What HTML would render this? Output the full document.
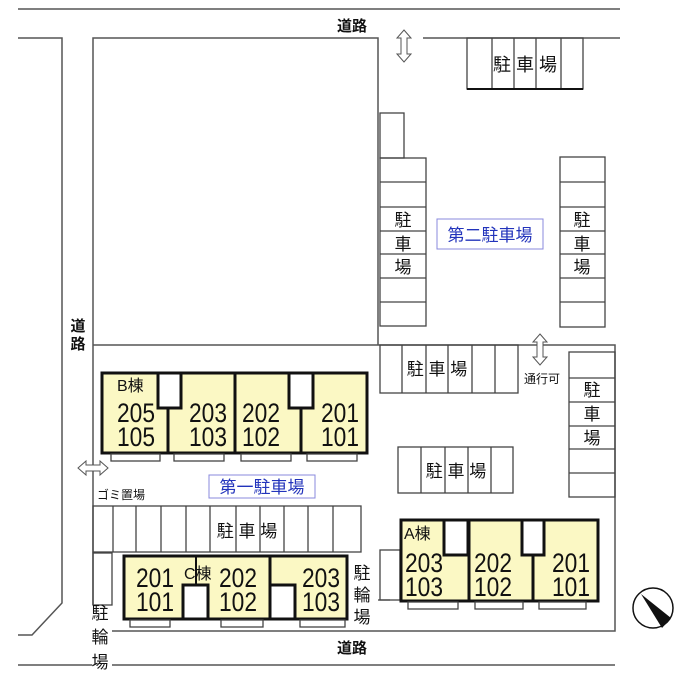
<!DOCTYPE html>
<html><head><meta charset="utf-8"><style>
html,body{margin:0;padding:0;background:#fff;}
svg{display:block;}
text{font-family:"Liberation Sans","Noto Sans CJK JP",sans-serif;fill:#111;}
.j{font-size:17px;}
.n{font-size:27px;}
.y{fill:#fbf8c4;stroke:#111;stroke-width:3;}
.w{fill:#fff;stroke:#111;stroke-width:3;}
.p{fill:none;stroke:#444;stroke-width:1.3;}
.l{stroke:#555;stroke-width:1.5;fill:none;}
</style></head><body>
<svg width="700" height="700" viewBox="0 0 700 700" xmlns="http://www.w3.org/2000/svg">
<line class="l" x1="18" y1="9" x2="620" y2="9"/>
<polyline class="l" points="18,38 62,38 62,603 32,635 18,635"/>
<line class="l" x1="423" y1="38" x2="620" y2="38"/>
<polyline class="l" points="93,605 93,38 378,38 378,345"/>
<line class="l" x1="93" y1="345" x2="378" y2="345"/>
<polyline class="l" points="378,345 615,345 615,631 112,631"/>
<line class="l" x1="18" y1="665" x2="92" y2="665"/>
<line class="l" x1="112" y1="665" x2="615" y2="665"/>
<text x="352" y="31" font-size="15" font-weight="bold" text-anchor="middle">道路</text>
<text x="352" y="653" font-size="15" font-weight="bold" text-anchor="middle">道路</text>
<text x="78" y="331" font-size="15" font-weight="bold" text-anchor="middle">道</text>
<text x="78" y="349" font-size="15" font-weight="bold" text-anchor="middle">路</text>
<g fill="#fff" stroke="#555" stroke-width="1">
<polygon points="404,30 411,38 407,38 407,54 411,54 404,62 397,54 401,54 401,38 397,38"/>
<polygon points="540,334 547,342 543,342 543,357 547,357 540,365 533,357 537,357 537,342 533,342"/>
<polygon points="78,468 86,461 86,465 100,465 100,461 108,468 100,475 100,471 86,471 86,475"/>
</g>
<text x="542" y="383" font-size="12" text-anchor="middle">通行可</text>
<rect class="p" x="467" y="38" width="116" height="51"/>
<g class="p"><line x1="492" y1="38" x2="492" y2="89"/><line x1="514" y1="38" x2="514" y2="89"/><line x1="536" y1="38" x2="536" y2="89"/><line x1="561" y1="38" x2="561" y2="89"/></g>
<line x1="467" y1="89" x2="583" y2="89" stroke="#111" stroke-width="2"/>
<text x="525" y="71" text-anchor="middle" font-size="18">駐 車 場</text>
<rect class="p" x="380" y="113" width="24" height="45"/>
<rect class="p" x="380" y="158" width="46" height="168"/>
<g class="p"><line x1="380" y1="182" x2="426" y2="182"/><line x1="380" y1="207" x2="426" y2="207"/><line x1="380" y1="231" x2="426" y2="231"/><line x1="380" y1="254" x2="426" y2="254"/><line x1="380" y1="278" x2="426" y2="278"/><line x1="380" y1="302" x2="426" y2="302"/></g>
<text x="403" y="226" class="j" text-anchor="middle">駐</text>
<text x="403" y="250" class="j" text-anchor="middle">車</text>
<text x="403" y="273" class="j" text-anchor="middle">場</text>
<rect class="p" x="560" y="157" width="45" height="170"/>
<g class="p"><line x1="560" y1="182" x2="605" y2="182"/><line x1="560" y1="207" x2="605" y2="207"/><line x1="560" y1="231" x2="605" y2="231"/><line x1="560" y1="254" x2="605" y2="254"/><line x1="560" y1="278" x2="605" y2="278"/><line x1="560" y1="302" x2="605" y2="302"/></g>
<text x="582" y="226" class="j" text-anchor="middle">駐</text>
<text x="582" y="250" class="j" text-anchor="middle">車</text>
<text x="582" y="273" class="j" text-anchor="middle">場</text>
<rect x="437" y="219" width="106" height="30" fill="#fff" stroke="#8888dd" stroke-width="1"/>
<text x="490" y="241" font-size="17" text-anchor="middle" style="fill:#2233bb">第二駐車場</text>
<rect class="p" x="380" y="345" width="138" height="48"/>
<g class="p"><line x1="402" y1="345" x2="402" y2="393"/><line x1="426" y1="345" x2="426" y2="393"/><line x1="448" y1="345" x2="448" y2="393"/><line x1="472" y1="345" x2="472" y2="393"/><line x1="495" y1="345" x2="495" y2="393"/></g>
<text x="437" y="375" class="j" text-anchor="middle">駐 車 場</text>
<rect class="p" x="569" y="352" width="46" height="145"/>
<g class="p"><line x1="569" y1="378" x2="615" y2="378"/><line x1="569" y1="402" x2="615" y2="402"/><line x1="569" y1="426" x2="615" y2="426"/><line x1="569" y1="449" x2="615" y2="449"/><line x1="569" y1="473" x2="615" y2="473"/></g>
<text x="592" y="396" class="j" text-anchor="middle">駐</text>
<text x="592" y="420" class="j" text-anchor="middle">車</text>
<text x="592" y="444" class="j" text-anchor="middle">場</text>
<rect class="p" x="398" y="447" width="115" height="46"/>
<g class="p"><line x1="421" y1="447" x2="421" y2="493"/><line x1="445" y1="447" x2="445" y2="493"/><line x1="468" y1="447" x2="468" y2="493"/><line x1="491" y1="447" x2="491" y2="493"/></g>
<text x="456" y="477" class="j" text-anchor="middle">駐 車 場</text>
<rect class="y" x="102" y="373" width="265" height="80"/>
<line x1="168" y1="408" x2="168" y2="453" stroke="#111" stroke-width="3"/>
<line x1="235" y1="373" x2="235" y2="453" stroke="#111" stroke-width="3"/>
<line x1="301" y1="408" x2="301" y2="453" stroke="#111" stroke-width="3"/>
<rect class="w" x="158" y="373" width="23" height="35"/>
<rect class="w" x="289" y="373" width="24" height="35"/>
<g class="p"><rect x="111" y="454" width="49" height="7"/><rect x="174" y="454" width="50" height="7"/><rect x="241" y="454" width="50" height="7"/><rect x="307" y="454" width="50" height="7"/></g>
<text x="117" y="391" font-size="16">B棟</text>
<g class="n">
<text x="117" y="422" textLength="38" lengthAdjust="spacingAndGlyphs">205</text><text x="117" y="446" textLength="38" lengthAdjust="spacingAndGlyphs">105</text>
<text x="189" y="422" textLength="38" lengthAdjust="spacingAndGlyphs">203</text><text x="189" y="446" textLength="38" lengthAdjust="spacingAndGlyphs">103</text>
<text x="242" y="422" textLength="38" lengthAdjust="spacingAndGlyphs">202</text><text x="242" y="446" textLength="38" lengthAdjust="spacingAndGlyphs">102</text>
<text x="321" y="422" textLength="38" lengthAdjust="spacingAndGlyphs">201</text><text x="321" y="446" textLength="38" lengthAdjust="spacingAndGlyphs">101</text>
</g>
<rect x="209" y="475" width="106" height="23" fill="#fff" stroke="#8888dd" stroke-width="1"/>
<text x="262" y="493" font-size="17" text-anchor="middle" style="fill:#2233bb">第一駐車場</text>
<text x="97" y="499" font-size="12">ゴミ置場</text>
<rect class="p" x="93" y="506" width="268" height="46"/>
<g class="p"><line x1="113" y1="506" x2="113" y2="552"/><line x1="136" y1="506" x2="136" y2="552"/><line x1="161" y1="506" x2="161" y2="552"/><line x1="186" y1="506" x2="186" y2="552"/><line x1="210" y1="506" x2="210" y2="552"/><line x1="236" y1="506" x2="236" y2="552"/><line x1="260" y1="506" x2="260" y2="552"/><line x1="284" y1="506" x2="284" y2="552"/><line x1="308" y1="506" x2="308" y2="552"/><line x1="333" y1="506" x2="333" y2="552"/></g>
<text x="247" y="537" class="j" text-anchor="middle">駐 車 場</text>
<rect class="p" x="93" y="553" width="19" height="52"/>
<rect class="y" x="124" y="556" width="223" height="63"/>
<line x1="196" y1="556" x2="196" y2="585" stroke="#111" stroke-width="2"/>
<line x1="270" y1="556" x2="270" y2="619" stroke="#111" stroke-width="3"/>
<rect class="w" x="183" y="585" width="25" height="34"/>
<rect class="w" x="270" y="585" width="25" height="34"/>
<g class="p"><rect x="130" y="620" width="40" height="7"/><rect x="221" y="620" width="42" height="7"/><rect x="300" y="620" width="45" height="7"/></g>
<g class="n">
<text x="136" y="587" textLength="38" lengthAdjust="spacingAndGlyphs">201</text><text x="136" y="611" textLength="38" lengthAdjust="spacingAndGlyphs">101</text>
<text x="219" y="587" textLength="38" lengthAdjust="spacingAndGlyphs">202</text><text x="219" y="611" textLength="38" lengthAdjust="spacingAndGlyphs">102</text>
<text x="302" y="587" textLength="38" lengthAdjust="spacingAndGlyphs">203</text><text x="302" y="611" textLength="38" lengthAdjust="spacingAndGlyphs">103</text>
</g>
<text x="184" y="579" font-size="16">C棟</text>
<text x="362" y="579" class="j" text-anchor="middle">駐</text>
<text x="362" y="601" class="j" text-anchor="middle">輪</text>
<text x="362" y="623" class="j" text-anchor="middle">場</text>
<text x="100" y="619" class="j" text-anchor="middle">駐</text>
<text x="100" y="643" class="j" text-anchor="middle">輪</text>
<text x="100" y="668" class="j" text-anchor="middle">場</text>
<rect class="p" x="380" y="550" width="20" height="50"/>
<line class="p" x1="378" y1="600" x2="390" y2="600"/>
<rect class="y" x="401" y="520" width="197" height="81"/>
<line x1="469" y1="520" x2="469" y2="601" stroke="#111" stroke-width="3"/>
<line x1="533" y1="555" x2="533" y2="601" stroke="#111" stroke-width="3"/>
<rect class="w" x="444" y="520" width="24" height="35"/>
<rect class="w" x="522" y="520" width="22" height="35"/>
<g class="p"><rect x="408" y="602" width="50" height="7"/><rect x="475" y="602" width="48" height="7"/><rect x="539" y="602" width="47" height="7"/></g>
<text x="404" y="539" font-size="16">A棟</text>
<g class="n">
<text x="405" y="572" textLength="38" lengthAdjust="spacingAndGlyphs">203</text><text x="405" y="596" textLength="38" lengthAdjust="spacingAndGlyphs">103</text>
<text x="474" y="572" textLength="38" lengthAdjust="spacingAndGlyphs">202</text><text x="474" y="596" textLength="38" lengthAdjust="spacingAndGlyphs">102</text>
<text x="552" y="572" textLength="38" lengthAdjust="spacingAndGlyphs">201</text><text x="552" y="596" textLength="38" lengthAdjust="spacingAndGlyphs">101</text>
</g>
<circle cx="653" cy="608" r="20" fill="#fff" stroke="#111" stroke-width="1.5"/>
<polygon points="641,594 671,618 662,628" fill="#111"/>
</svg>
</body></html>
